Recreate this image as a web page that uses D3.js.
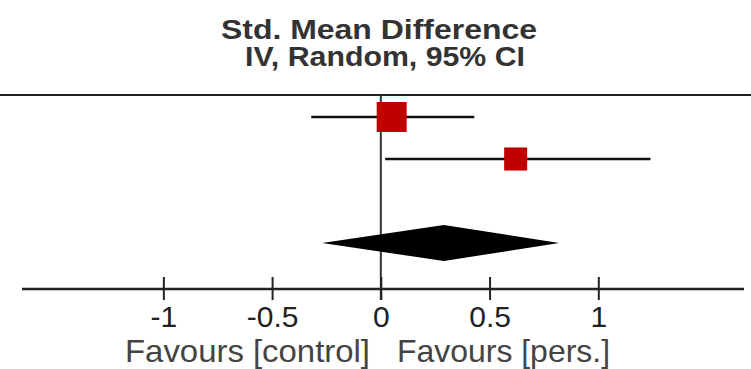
<!DOCTYPE html>
<html>
<head>
<meta charset="utf-8">
<script src="https://cdn.jsdelivr.net/npm/d3@7"></script>
<style>
  body { margin: 0; background: #fff; }
  text { font-family: "Liberation Sans", Arial, sans-serif; }
</style>
</head>
<body>
<div class="canvas"></div>
<script>
// study rows
const studies = ['Study 1', 'Study 2'];
const smd = [0.05, 0.62];
const ciLow = [-0.32, 0.02];
const ciHigh = [0.43, 1.24];
const weights = [62.9, 37.1];

// pooled estimate
const pooled = {est: 0.29, low: -0.27, high: 0.82};

const tickVals = [-1, -0.5, 0, 0.5, 1];
const tickLabels = ['-1', '-0.5', '0', '0.5', '1'];
const titleLines = ['Std. Mean Difference', 'IV, Random, 95% CI'];
const favourLeft = 'Favours [control]';
const favourRight = 'Favours [pers.]';

const width = 751;
const height = 369;
const axisY = 289;
const topLineY = 95;

const svg = d3.select('.canvas')
    .append('svg')
    .attr('width', width)
    .attr('height', height)

const x = d3.scaleLinear().domain([-1.65, 1.67]).range([22, 744]);
// row index -> y (row 2 left blank, total on row 3)
const y = d3.scaleLinear().domain([0, 3]).range([117, 243]);
const boxSize = d3.scaleSqrt().domain([0, 100]).range([0, 37.8]);

// title
svg.selectAll('text.title')
    .data(titleLines)
    .enter()
    .append('text')
    .attr('class', 'title')
    .attr('x', (d, i) => i == 0 ? 379 : 385)
    .attr('y', (d, i) => i == 0 ? 39 : 66)
    .attr('text-anchor', 'middle')
    .attr('font-size', 27)
    .attr('font-weight', 'bold')
    .attr('fill', '#333')
    .attr('textLength', (d, i) => i == 0 ? 316 : 280)
    .attr('lengthAdjust', 'spacingAndGlyphs')
    .text(d => d)

// header rule
svg.append('line')
    .attr('x1', 0).attr('x2', width)
    .attr('y1', topLineY).attr('y2', topLineY)
    .attr('stroke', '#222')
    .attr('stroke-width', 2)

// line of no effect
svg.append('line')
    .attr('x1', x(0)).attr('x2', x(0))
    .attr('y1', topLineY).attr('y2', axisY + 11)
    .attr('stroke', '#333')
    .attr('stroke-width', 2)

const rows = studies.map((s, i) => ({name: s, est: smd[i], low: ciLow[i], high: ciHigh[i], w: weights[i], row: i}));

const studyGroup = svg.append('g');

studyGroup.selectAll('line.ci')
    .data(rows)
    .enter()
    .append('line')
    .attr('class', 'ci')
    .attr('x1', d => x(d.low))
    .attr('x2', d => x(d.high))
    .attr('y1', d => y(d.row))
    .attr('y2', d => y(d.row))
    .attr('stroke', '#111')
    .attr('stroke-width', 2.5)

studyGroup.selectAll('rect')
    .data(rows)
    .enter()
    .append('rect')
    .attr('x', d => x(d.est) - boxSize(d.w) / 2)
    .attr('y', d => y(d.row) - boxSize(d.w) / 2)
    .attr('width', d => boxSize(d.w))
    .attr('height', d => boxSize(d.w))
    .attr('fill', '#c00000')

// diamond for the pooled effect
const dy = 18;
const diamond = [
    [x(pooled.low), y(3)],
    [x(pooled.est), y(3) - dy],
    [x(pooled.high), y(3)],
    [x(pooled.est), y(3) + dy]
];
svg.append('path')
    .attr('d', d3.line()(diamond) + 'Z')
    .attr('fill', '#000')

// x axis
const xAxis = d3.axisBottom(x)
    .tickValues(tickVals)
    .tickSize(11)
    .tickFormat((d, i) => tickLabels[i]);

const xAxisGroup = svg.append('g')
    .attr('transform', `translate(0, ${axisY})`)
    .call(xAxis);

xAxisGroup.select('.domain')
    .attr('d', `M${x.range()[0]},0H${x.range()[1]}`)
    .attr('stroke', '#222')
    .attr('stroke-width', 2.5)

xAxisGroup.selectAll('.tick line')
    .attr('y1', -12)
    .attr('stroke', '#222')
    .attr('stroke-width', 2)

xAxisGroup.selectAll('.tick text')
    .attr('y', 38)
    .attr('dy', 0)
    .attr('font-size', 30)
    .attr('font-family', '"Liberation Sans", Arial, sans-serif')
    .attr('fill', '#222')

// favours labels
svg.append('text')
    .attr('x', 370)
    .attr('y', 362)
    .attr('text-anchor', 'end')
    .attr('font-size', 32)
    .attr('fill', '#444')
    .attr('textLength', 245)
    .attr('lengthAdjust', 'spacingAndGlyphs')
    .text(favourLeft)

svg.append('text')
    .attr('x', 397)
    .attr('y', 362)
    .attr('font-size', 32)
    .attr('fill', '#444')
    .attr('textLength', 213)
    .attr('lengthAdjust', 'spacingAndGlyphs')
    .text(favourRight)
</script>
</body>
</html>
